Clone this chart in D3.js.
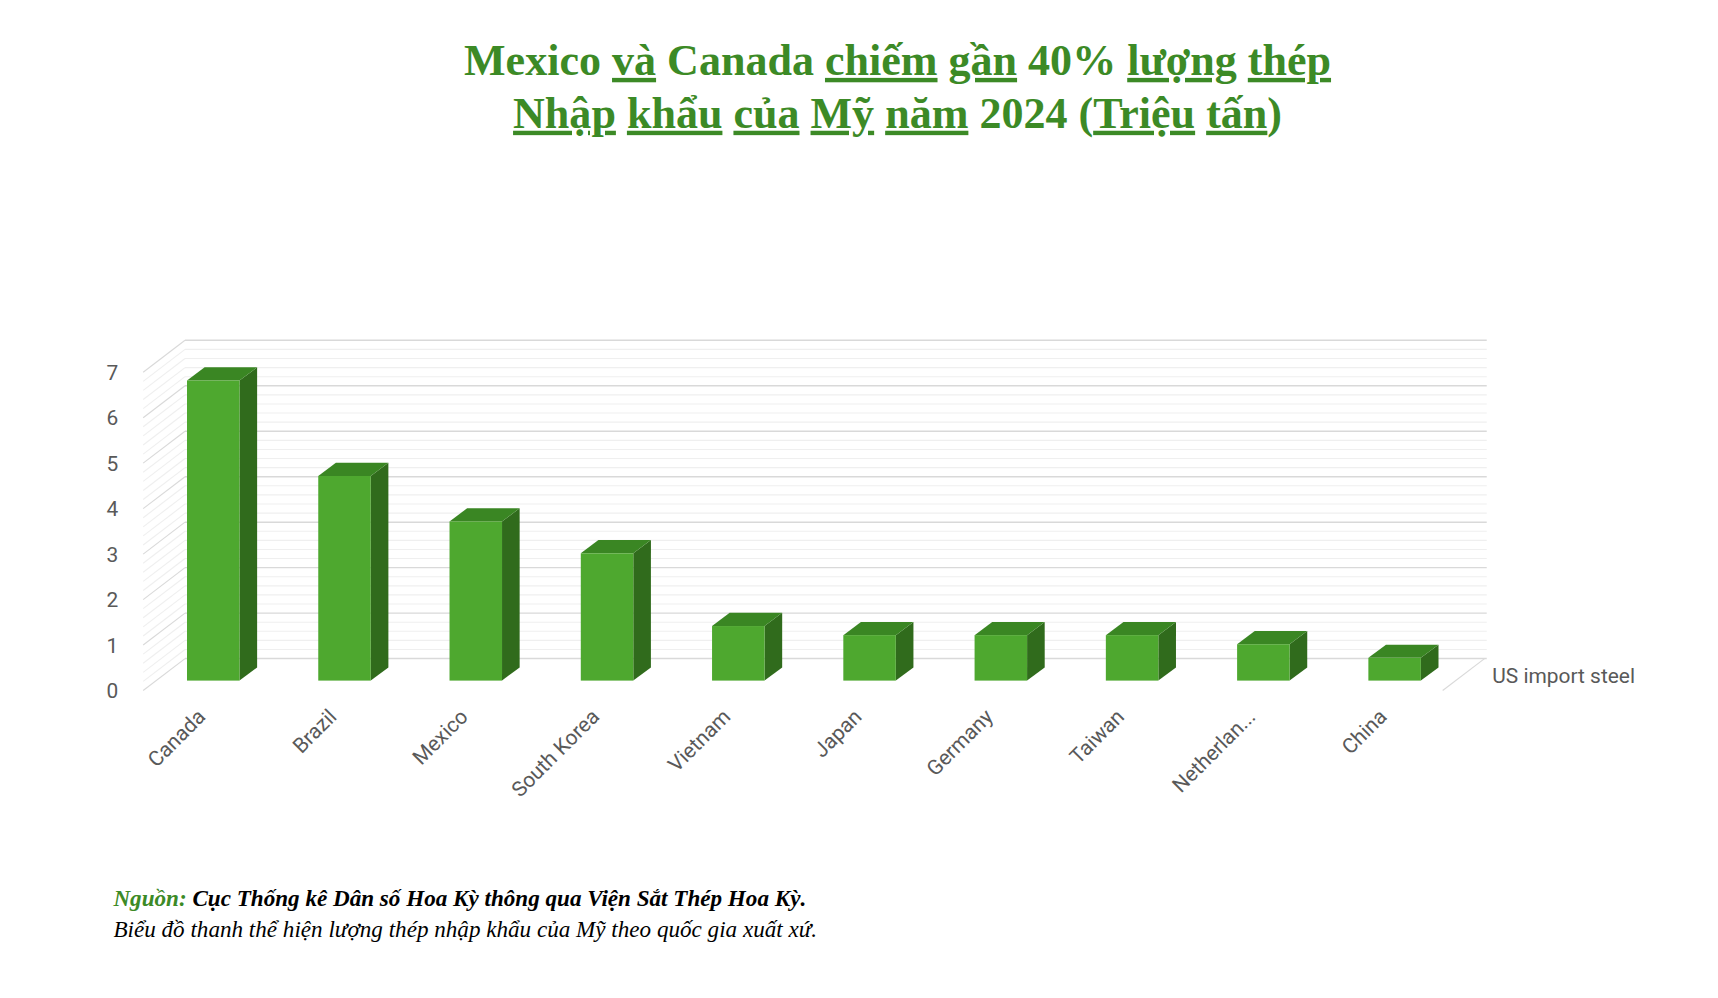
<!DOCTYPE html>
<html><head><meta charset="utf-8">
<script src="https://cdn.jsdelivr.net/npm/d3@7"></script>
<style>
body{margin:0;background:#fff;}
.sq{text-decoration:underline wavy #e04040;text-decoration-thickness:1px;text-underline-offset:6px;}
</style></head>
<body>
<svg id="c" width="1718" height="998" viewBox="0 0 1560 906.2"></svg>
<script>
const categories=["Canada","Brazil","Mexico","South Korea","Vietnam","Japan","Germany","Taiwan","Netherlan...","China"];
const values=[6.6,4.5,3.5,2.8,1.2,1.0,1.0,1.0,0.8,0.5];
const yTicks=[0,1,2,3,4,5,6,7];
const seriesName="US import steel";

const svg=d3.select("#c");
// Title
const title=[
 [["Mexico ",0],["và",1],[" Canada ",0],["chiếm",1],[" ",0],["gần",1],[" 40% ",0],["lượng",1],[" ",0],["thép",1]],
 [["Nhập",1],[" ",0],["khẩu",1],[" ",0],["của",1],[" ",0],["Mỹ",1],[" ",0],["năm",1],[" 2024 (",0],["Triệu",1],[" ",0],["tấn",1],[")",0]]
];
title.forEach((ln,i)=>{
  const t=svg.append("text").attr("x",815).attr("y",68+i*48).attr("text-anchor","middle")
   .attr("font-family","Liberation Serif, serif").attr("font-weight","bold").attr("font-size",40).attr("fill","#3c8a26");
  ln.forEach(([s,q])=>t.append("tspan").text(s).attr("class",q?"sq":null).attr("xml:space","preserve").style("white-space","pre"));
});

// 3D geometry
const x0front=130, dx=38, dy=-29; // back wall offset
const y=d3.scaleLinear().domain([0,7]).range([627,338]);
const x=d3.scaleBand().domain(categories).range([140,1320]).paddingInner(0.6).paddingOuter(0.25);
const g=svg.append("g");
// grid lines (minor every 0.2, major every 1)
const gridVals=d3.range(0,7.01,0.2).map(v=>+v.toFixed(1));
gridVals.forEach(v=>{
  const major=Math.abs(v-Math.round(v))<1e-6;
  const col=major?"#d9d9d9":"#efefef";
  g.append("line").attr("x1",x0front).attr("y1",y(v)).attr("x2",x0front+dx).attr("y2",y(v)+dy).attr("stroke",col).attr("stroke-width",1);
  g.append("line").attr("x1",x0front+dx).attr("y1",y(v)+dy).attr("x2",1350).attr("y2",y(v)+dy).attr("stroke",col).attr("stroke-width",major?1.3:1);
});
// floor right edge
g.append("line").attr("x1",1310).attr("y1",627).attr("x2",1348).attr("y2",598).attr("stroke","#d9d9d9");
// y labels
svg.selectAll(".yl").data(yTicks).join("text").attr("x",102).attr("y",d=>y(d)+7).attr("text-anchor","middle")
 .attr("font-family","Roboto, sans-serif").attr("font-size",19).attr("fill","#595959").text(d=>d);
// bars
const base=618, unit=y(0)-y(1), sdx=16, sdy=-12;
const bars=svg.selectAll(".bar").data(categories).join("g");
bars.each(function(c,i){
  const gg=d3.select(this), bx=x(c), w=x.bandwidth(), top=base-values[i]*unit;
  gg.append("path").attr("d",`M${bx+w},${base}L${bx+w+sdx},${base+sdy}L${bx+w+sdx},${top+sdy}L${bx+w},${top}Z`).attr("fill","#306b1c");
  gg.append("path").attr("d",`M${bx},${top}L${bx+sdx},${top+sdy}L${bx+w+sdx},${top+sdy}L${bx+w},${top}Z`).attr("fill","#3a8623");
  gg.append("rect").attr("x",bx).attr("y",top).attr("width",w).attr("height",base-top).attr("fill","#4ea82f");
});
// category labels
svg.selectAll(".cl").data(categories).join("text")
 .attr("transform",c=>`translate(${x(c)+x.bandwidth()/2-6},${652}) rotate(-45)`)
 .attr("text-anchor","end").attr("font-family","Roboto, sans-serif").attr("font-size",19).attr("fill","#595959").text(c=>c);
// series label
svg.append("text").attr("x",1355).attr("y",620).attr("font-family","Roboto, sans-serif").attr("font-size",19).attr("fill","#595959").text(seriesName);
// footnote
const f1=svg.append("text").attr("x",103).attr("y",823).attr("font-family","Liberation Serif, serif").attr("font-style","italic").attr("font-weight","bold").attr("font-size",21);
f1.append("tspan").attr("fill","#3c8a26").text("Nguồn:");
f1.append("tspan").attr("fill","#000").text(" Cục Thống kê Dân số Hoa Kỳ thông qua Viện Sắt Thép Hoa Kỳ.");
svg.append("text").attr("x",103).attr("y",851).attr("font-family","Liberation Serif, serif").attr("font-style","italic").attr("font-size",21).attr("fill","#000")
 .text("Biểu đồ thanh thể hiện lượng thép nhập khẩu của Mỹ theo quốc gia xuất xứ.");
</script></body></html>
